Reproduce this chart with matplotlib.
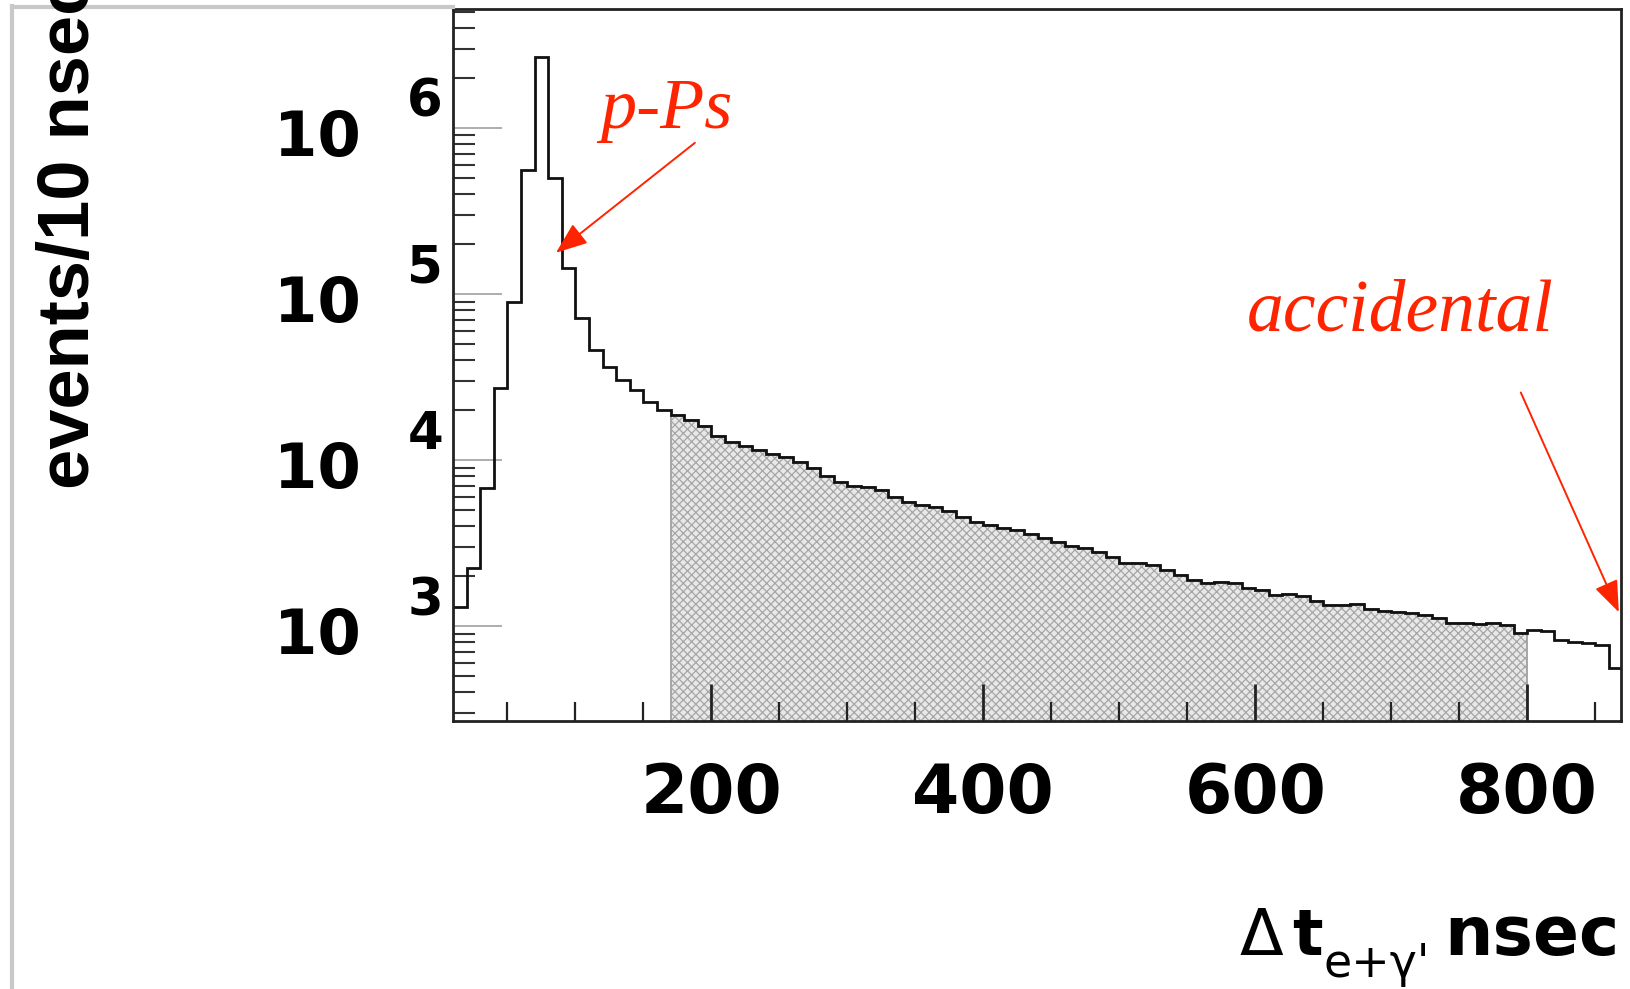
import numpy as np
import matplotlib
matplotlib.use("Agg")
import matplotlib.pyplot as plt
from matplotlib.ticker import MultipleLocator, LogLocator, NullFormatter
from matplotlib.transforms import offset_copy
from matplotlib.lines import Line2D

# histogram, 10 ns bins starting at 10 ns
bin_start = 10
bin_width = 10
counts = [
    1300, 2240, 6780, 27200, 89500, 559000, 2680000, 500000, 143000, 71700,
    46000, 36300, 30300, 26400, 22400, 20000, 18700, 17400, 16000, 13950,
    12840, 12140, 11490, 10870, 10420, 9730, 8950, 8010, 7370, 6970,
    6880, 6600, 5990, 5590, 5360, 5210, 4930, 4540, 4230, 4060,
    3890, 3790, 3580, 3390, 3210, 3030, 2950, 2790, 2600, 2400,
    2400, 2330, 2170, 2030, 1890, 1820, 1840, 1820, 1690, 1650,
    1540, 1560, 1520, 1420, 1340, 1340, 1360, 1270, 1230, 1210,
    1200, 1165, 1120, 1040, 1040, 1030, 1040, 1010, 910, 946,
    933, 824, 801, 790, 768, 558,
]

# shaded (fit) window, ns
shade_lo = 170
shade_hi = 800

x_ticks = [200, 400, 600, 800]
x_tick_labels = ["200", "400", "600", "800"]
y_decades = [3, 4, 5, 6]

y_label = "events/10 nsec"
red = "#ff2400"

W, H = 1630, 989


def fx(px):
    return px / W


def fy(py):
    return 1 - py / H


fig = plt.figure(figsize=(W / 100, H / 100), dpi=100)
ax = fig.add_axes([fx(453), fy(721), fx(1621) - fx(453), fy(9) - fy(721)])

counts = np.array(counts, dtype=float)
edges = bin_start + bin_width * np.arange(len(counts) + 1)

# shaded part under the curve
i0 = np.searchsorted(edges, shade_lo)
i1 = np.searchsorted(edges, shade_hi)
plt.rcParams["hatch.linewidth"] = 0.9
ax.stairs(counts[i0:i1], edges[i0:i1 + 1], fill=True, baseline=1,
          facecolor="#e8e8e8", edgecolor="#a6a6a6", hatch="xxxx",
          linewidth=1.4, zorder=1)

# the histogram itself
ax.stairs(counts, edges, baseline=None, color="#111111", linewidth=2.0, zorder=3)

ax.set_yscale("log")
ax.set_xlim(10, 869)
ax.set_ylim(268, 5.2e6)

for s in ax.spines.values():
    s.set_linewidth(2.0)
    s.set_color("#222222")
    s.set_zorder(5)

# x axis ticks
ax.xaxis.set_major_locator(MultipleLocator(200))
ax.xaxis.set_minor_locator(MultipleLocator(50))
ax.set_xticks(x_ticks)
ax.set_xticklabels(x_tick_labels, fontsize=49, fontweight="bold",
                   family="DejaVu Sans")
ax.tick_params(axis="x", which="major", direction="in", length=27, width=2,
               color="#222222", pad=29)
ax.tick_params(axis="x", which="minor", direction="in", length=14, width=1.6,
               color="#222222")

# y axis ticks
ax.set_yticks([10.0 ** k for k in y_decades])
ax.set_yticklabels([])
ax.yaxis.set_minor_locator(LogLocator(base=10, subs=np.arange(2, 10)))
ax.yaxis.set_minor_formatter(NullFormatter())
ax.tick_params(axis="y", which="major", direction="in", length=35, width=1.2,
               color="#a0a0a0")
ax.tick_params(axis="y", which="minor", direction="in", length=16, width=1.5,
               color="#333333")

# "10^n" labels, drawn by hand for the old ROOT look
ytr = ax.get_yaxis_transform()
base_tr = offset_copy(ytr, fig=fig, x=-92, y=-28, units="dots")
exp_tr = offset_copy(ytr, fig=fig, x=-10, y=11, units="dots")
for k in y_decades:
    ax.text(0, 10.0 ** k, "10", transform=base_tr, ha="right", va="baseline",
            fontsize=45, fontweight="bold", family="DejaVu Sans")
    ax.text(0, 10.0 ** k, str(k), transform=exp_tr, ha="right", va="baseline",
            fontsize=37, fontweight="bold", family="DejaVu Sans")

# y axis title, runs off the top of the page
fig.text(fx(89), fy(489), y_label, rotation=90, rotation_mode="anchor",
         ha="left", va="baseline", fontsize=52, fontweight="bold",
         family="Liberation Sans")

# x axis title: Δt_{e+γ'} nsec
fig.text(fx(1240), fy(955), "Δ", fontsize=46, family="DejaVu Sans",
         ha="left", va="baseline")
fig.text(fx(1292), fy(955), "t", fontsize=46, fontweight="bold",
         family="DejaVu Sans", ha="left", va="baseline")
fig.text(fx(1323), fy(977), "e+γ'", fontsize=33, family="DejaVu Sans",
         ha="left", va="baseline")
fig.text(fx(1444), fy(955), "nsec", fontsize=49, fontweight="bold",
         family="DejaVu Sans", ha="left", va="baseline")

# red annotations
ax.text(118, 1.0e6, "p-Ps", color=red, fontsize=52, style="italic",
        family="Liberation Serif", ha="left", va="baseline")
ax.annotate("", xy=(85.7, 1.77e5), xytext=(187.9, 8.13e5),
            arrowprops=dict(arrowstyle="-|>,head_length=0.65,head_width=0.25",
                            color=red, lw=1.4, mutation_scale=30,
                            shrinkA=0, shrinkB=0))
ax.text(593.8, 6.05e4, "accidental", color=red, fontsize=53, style="italic",
        family="Liberation Serif", ha="left", va="baseline")
ax.annotate("", xy=(867.4, 1212), xytext=(795.3, 25500),
            arrowprops=dict(arrowstyle="-|>,head_length=0.65,head_width=0.25",
                            color=red, lw=1.4, mutation_scale=30,
                            shrinkA=0, shrinkB=0),
            annotation_clip=False)

# light grey page border at left and top
fig.add_artist(Line2D([fx(12), fx(12)], [fy(989), fy(6)], color="#c8c8c8", lw=3))
fig.add_artist(Line2D([fx(12), fx(453)], [fy(7), fy(7)], color="#c8c8c8", lw=3))

fig.savefig("out.png", dpi=100)
